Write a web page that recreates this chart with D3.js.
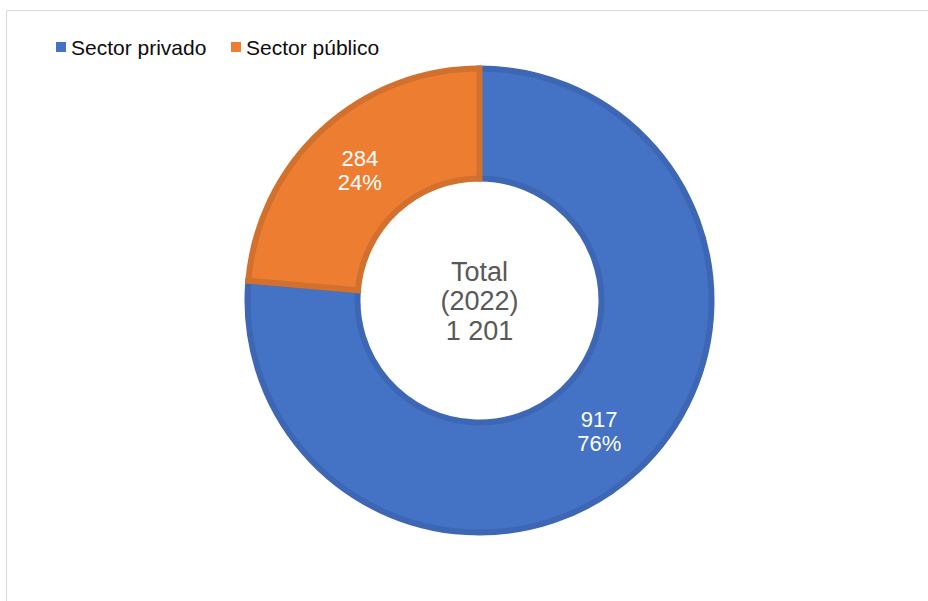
<!DOCTYPE html>
<html>
<head>
<meta charset="utf-8">
<script src="https://cdn.jsdelivr.net/npm/d3@7"></script>
<style>
    body { margin: 0; background: #fff; }
    svg { display: block; font-family: "Liberation Sans", Arial, sans-serif; }
</style>
</head>
<body>
<div id="chart"></div>
<script>
// data
var categories = ["Sector privado", "Sector público"];
var values = [917, 284];
var percents = ["76%", "24%"];
var centerLines = ["Total", "(2022)", "1 201"];

var colors = ["#4472c4", "#ed7d31"];
var strokes = ["#3d67b5", "#d2702d"];

var width = 928, height = 601;

var svg = d3.select("#chart")
    .append("svg")
    .attr("width", width)
    .attr("height", height);

// frame
svg.append("path")
    .attr("d", "M6.5," + height + "V10.5H" + width)
    .attr("fill", "none")
    .attr("stroke", "#d9d9d9")
    .attr("stroke-width", 1);

var cx = 479.5, cy = 300.5;
var outerR = 235, innerR = 119;

var g = svg.append("g")
    .attr("transform", "translate(" + cx + "," + cy + ")");

var pie = d3.pie().sort(null).value(function (d) { return d; });
var arc = d3.arc().innerRadius(innerR + 3).outerRadius(outerR - 3);
var labelArc = d3.arc().innerRadius((innerR + outerR) / 2).outerRadius((innerR + outerR) / 2);

var arcs = pie(values);

g.selectAll(".slice")
    .data(arcs)
    .enter().append("path")
    .attr("class", "slice")
    .attr("d", arc)
    .attr("fill", function (d, i) { return colors[i]; })
    .attr("stroke", function (d, i) { return strokes[i]; })
    .attr("stroke-width", 6)
    .attr("stroke-linejoin", "miter");

// slice labels
var labels = g.selectAll(".lbl")
    .data(arcs)
    .enter().append("text")
    .attr("class", "lbl")
    .attr("transform", function (d) { return "translate(" + labelArc.centroid(d) + ")"; })
    .attr("text-anchor", "middle")
    .attr("fill", "#ffffff")
    .style("font-size", "22px");

labels.append("tspan")
    .attr("x", 0)
    .attr("y", -4)
    .text(function (d) { return d3.format(",")(d.data); });
labels.append("tspan")
    .attr("x", 0)
    .attr("y", 20)
    .text(function (d, i) { return percents[i]; });

// center text
g.append("text")
    .attr("text-anchor", "middle")
    .attr("fill", "#595959")
    .style("font-size", "27px")
    .selectAll("tspan")
    .data(centerLines)
    .enter().append("tspan")
    .attr("x", 0)
    .attr("y", function (d, i) { return -20 + i * 29.5; })
    .text(function (d) { return d; });

// legend
var legend = svg.append("g")
    .attr("transform", "translate(56,0)");

var offsets = [0, 175];
var item = legend.selectAll(".leg")
    .data(categories)
    .enter().append("g")
    .attr("class", "leg")
    .attr("transform", function (d, i) { return "translate(" + offsets[i] + ",0)"; });

item.append("rect")
    .attr("x", 0)
    .attr("y", 42)
    .attr("width", 10)
    .attr("height", 10)
    .attr("fill", function (d, i) { return colors[i]; });

item.append("text")
    .attr("x", 15)
    .attr("y", 54.5)
    .attr("fill", "#0d0d0d")
    .style("font-size", "21px")
    .text(function (d) { return d; });
</script>
</body>
</html>
